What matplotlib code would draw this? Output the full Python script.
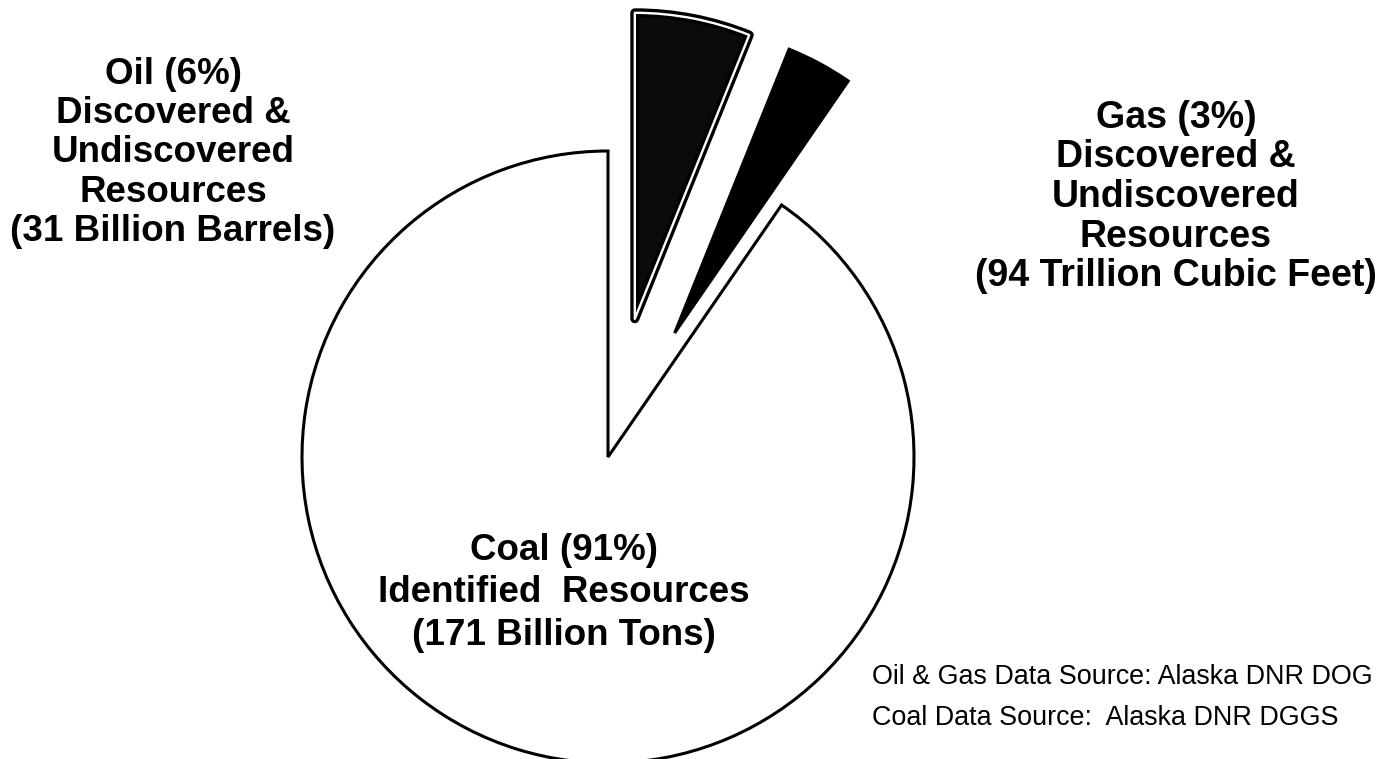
import matplotlib.pyplot as plt
from matplotlib.patches import Wedge

plt.rcParams["font.family"] = ["Liberation Sans", "DejaVu Sans"]

# values (share of the pie, percent)
resources = ["Oil", "Gas", "Coal"]
shares = [6.1, 3.5, 90.4]
explode = [0.46, 0.46, 0.0]
face_colors = ["#0b0b0b", "#000000", "#ffffff"]

oil_label = "Oil (6%)\nDiscovered &\nUndiscovered\nResources\n(31 Billion Barrels)"
gas_label = "Gas (3%)\nDiscovered &\nUndiscovered\nResources\n(94 Trillion Cubic Feet)"
coal_label = "Coal (91%)\nIdentified  Resources\n(171 Billion Tons)"
source_lines = ["Oil & Gas Data Source: Alaska DNR DOG",
                "Coal Data Source:  Alaska DNR DGGS"]

W, H = 1384, 759
cx, cy, r_px = 608, 457, 306  # pie centre / radius in pixels

fig = plt.figure(figsize=(W / 100, H / 100), dpi=100, facecolor="white")
ax = fig.add_axes([0, 0, 1, 1])


def px(x, y):
    # pixel position -> data units (pie radius = 1)
    return (x - cx) / r_px, (cy - y) / r_px


wedges, _ = ax.pie(shares, explode=explode, colors=face_colors, startangle=90,
                   counterclock=False, radius=1.0,
                   wedgeprops=dict(edgecolor="black", linewidth=2.2))

# oil wedge: thick black outline with a thin white line inside it
oil = wedges[0]
oil.set_linewidth(6.5)
oil.set_joinstyle("round")
inner = Wedge(oil.center, oil.r, oil.theta1, oil.theta2, facecolor="none",
              edgecolor="white", linewidth=1.7, zorder=oil.get_zorder() + 0.1)
inner.set_joinstyle("round")
ax.add_patch(inner)

# labels
x, y = px(173, 153)
ax.text(x, y, oil_label, ha="center", va="center", fontsize=26.5,
        fontweight="bold", linespacing=1.15)
x, y = px(1176, 197)
ax.text(x, y, gas_label, ha="center", va="center", fontsize=27,
        fontweight="bold", linespacing=1.13)
x, y = px(564, 593)
ax.text(x, y, coal_label, ha="center", va="center", fontsize=26.5,
        fontweight="bold", linespacing=1.265)

x, y = px(872, 677)
ax.text(x, y, source_lines[0], ha="left", va="center", fontsize=19.4)
x, y = px(872, 718)
ax.text(x, y, source_lines[1], ha="left", va="center", fontsize=19.4)

ax.set_xlim(-cx / r_px, (W - cx) / r_px)
ax.set_ylim(-(H - cy) / r_px, cy / r_px)
ax.set_aspect("auto")
ax.axis("off")

fig.savefig("out.png", dpi=100, facecolor="white")
